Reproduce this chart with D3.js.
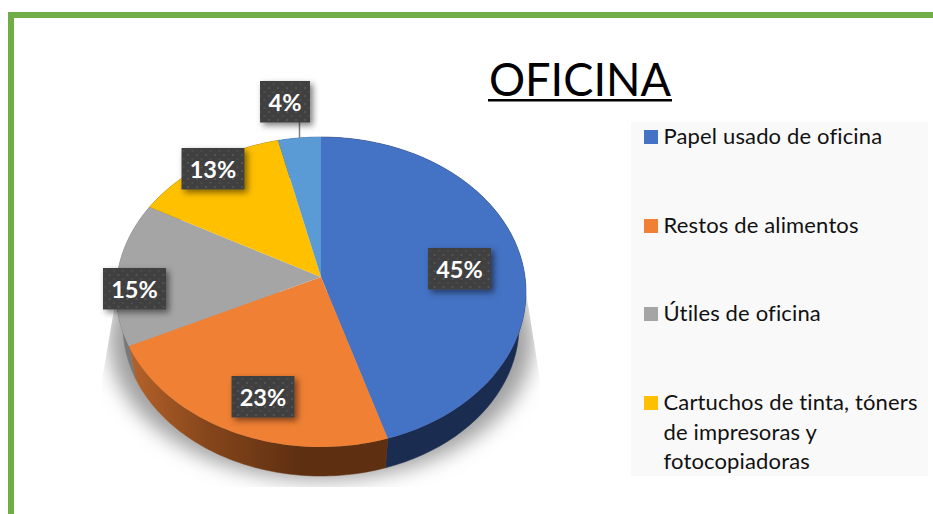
<!DOCTYPE html>
<html><head><meta charset="utf-8">
<script src="https://cdn.jsdelivr.net/npm/d3@7/dist/d3.min.js"></script>
<style>html,body{margin:0;padding:0;background:#fff;overflow:hidden}svg{display:block}text{font-family:Lato,sans-serif;font-variant-ligatures:none}</style>
</head><body><svg id="c" width="933" height="514"></svg>
<script>
const titleText = "OFICINA";
const sliceValues = [45.2, 22.7, 15, 13.4, 3.7];
const sliceLabels = ["45%", "23%", "15%", "13%", "4%"];
const sliceColors = ["#4472c4", "#f08033", "#a5a5a5", "#ffc000", "#5b9bd5"];
const legendNames = [["Papel usado de oficina"], ["Restos de alimentos"], ["Útiles de oficina"],
  ["Cartuchos de tinta, tóners", "de impresoras y", "fotocopiadoras"]];
const legendBaselines = [144, 233, 321, 410];
const labelCenters = [[459.5, 269], [263, 397], [134.5, 289], [213, 169], [285, 102]];

const svg = d3.select("#c");
const defs = svg.append("defs");

// Tilted-disc projection: unit circle to page, apex displaced towards the far rim
const tilt = 0.097;
const topX = d3.scaleLinear([-1, 1], [116, 526]);
const topY = d3.scaleLinear([-1, 1], [137, 447]);
const lowX = d3.scaleLinear([-1, 1], [123, 519]);
const lowY = d3.scaleLinear([-1, 1], [176, 476]);
const proj = a => {
  const u = Math.sin(a), v = -Math.cos(a), d = 1 - tilt * v;
  return [u * Math.sqrt(1 - tilt * tilt) / d, (v - tilt) / d];
};
const onTop = a => { const p = proj(a); return [topX(p[0]), topY(p[1])]; };
const onLow = a => { const p = proj(a); return [lowX(p[0]), lowY(p[1])]; };
const apex = [topX(0), topY(-tilt)];
const arcs = d3.pie().sort(null)(sliceValues);
const line = d3.line();
const sweep = d => d3.range(0, 61).map(i => d.startAngle + (d.endAngle - d.startAngle) * i / 60);

// Gradients for the side wall
const wallGrad = (id, stops) => {
  const g = defs.append("linearGradient").attr("id", id).attr("gradientUnits", "userSpaceOnUse")
    .attr("x1", 130).attr("x2", 300).attr("y1", 0).attr("y2", 0);
  stops.forEach(s => g.append("stop").attr("offset", s[0]).attr("stop-color", s[1]));
};
wallGrad("wallOrange", [[0, "#b5622a"], [0.45, "#86461b"], [1, "#5e2f11"]]);
const wallFills = ["#1a2c50", "url(#wallOrange)", "#787878", "#8a6a00", "#2f5f8e"];

defs.append("filter").attr("id", "soft").attr("x", "-20%").attr("y", "-20%").attr("width", "140%").attr("height", "140%")
  .append("feGaussianBlur").attr("stdDeviation", 10);
const boxShadow = defs.append("filter").attr("id", "boxShadow").attr("x", "-30%").attr("y", "-30%").attr("width", "170%").attr("height", "170%");
boxShadow.append("feDropShadow").attr("dx", 3).attr("dy", 3).attr("stdDeviation", 3).attr("flood-color", "#000").attr("flood-opacity", 0.5);
const dots = defs.append("pattern").attr("id", "dots").attr("patternUnits", "userSpaceOnUse").attr("width", 9).attr("height", 8);
dots.append("rect").attr("width", 9).attr("height", 8).attr("fill", "#3f3f3f");
dots.append("circle").attr("cx", 2).attr("cy", 2).attr("r", 1).attr("fill", "#5a5a5a");
dots.append("circle").attr("cx", 6.5).attr("cy", 6).attr("r", 1).attr("fill", "#4f4f4f");
defs.append("clipPath").attr("id", "shadowClip").append("path")
  .attr("d", "M117,292L526,292L540,380L540,487L102,487L102,380Z");

// Frame
svg.append("rect").attr("x", 8).attr("y", 12).attr("width", 6).attr("height", 502).attr("fill", "#70ad47");
svg.append("rect").attr("x", 8).attr("y", 12).attr("width", 925).attr("height", 6).attr("fill", "#70ad47");

// Ground shadow
svg.append("g").attr("clip-path", "url(#shadowClip)").append("ellipse")
  .attr("cx", 321).attr("cy", 340).attr("rx", 212).attr("ry", 140)
  .attr("fill", "#a0a0a0").attr("filter", "url(#soft)");

// Side wall
svg.append("g").selectAll("path").data(arcs).join("path")
  .attr("d", d => {
    const t = sweep(d);
    return line(t.map(onTop).concat(t.slice().reverse().map(onLow))) + "Z";
  })
  .attr("fill", (d, i) => wallFills[i]).attr("stroke", (d, i) => wallFills[i]).attr("stroke-width", 0.5);

// Top face
svg.append("g").selectAll("path").data(arcs).join("path")
  .attr("d", d => line([apex].concat(sweep(d).map(onTop))) + "Z")
  .attr("fill", (d, i) => sliceColors[i]);

// Leader of the smallest slice
svg.append("line").attr("x1", 299.5).attr("x2", 299.5).attr("y1", 120).attr("y2", 138)
  .attr("stroke", "#7f7f7f").attr("stroke-width", 1.5);

// Value labels
const lab = svg.append("g").selectAll("g").data(sliceLabels).join("g")
  .attr("transform", (d, i) => `translate(${labelCenters[i][0]},${labelCenters[i][1]})`);
lab.append("rect")
  .attr("x", d => d.length > 2 ? -31.5 : -25).attr("y", -21)
  .attr("width", d => d.length > 2 ? 63 : 50).attr("height", 41.5)
  .attr("fill", "url(#dots)").attr("filter", "url(#boxShadow)");
lab.append("text").text(d => d).attr("text-anchor", "middle").attr("y", 9)
  .attr("font-size", 23.5).attr("font-weight", 700).attr("fill", "#fff");

// Title
svg.append("text").text(titleText).attr("x", 489).attr("y", 96)
  .attr("font-size", 47).attr("fill", "#000")
  .attr("textLength", 182).attr("lengthAdjust", "spacingAndGlyphs");
svg.append("rect").attr("x", 488).attr("y", 99).attr("width", 184).attr("height", 2.5).attr("fill", "#000");

// Legend
svg.append("rect").attr("x", 631).attr("y", 122).attr("width", 297).attr("height", 354).attr("fill", "#f9f9f9");
const leg = svg.append("g").selectAll("g").data(legendNames).join("g");
leg.append("rect").attr("x", 644).attr("y", (d, i) => legendBaselines[i] - 14).attr("width", 14).attr("height", 14)
  .attr("fill", (d, i) => sliceColors[i]);
leg.each(function (names, i) {
  d3.select(this).selectAll("text").data(names).join("text").text(d => d)
    .attr("x", 663.5).attr("y", (d, j) => legendBaselines[i] + j * 29.7)
    .attr("font-size", 22).attr("letter-spacing", 0.15).attr("fill", "#111");
});
</script></body></html>
